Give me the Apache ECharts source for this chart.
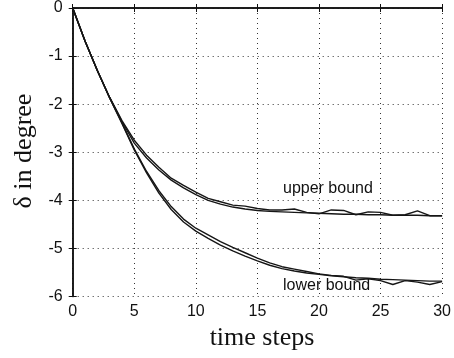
<!DOCTYPE html>
<html><head><meta charset="utf-8">
<script src="https://cdn.jsdelivr.net/npm/echarts@6/dist/echarts.min.js"></script>
<style>html,body{margin:0;padding:0;background:#fff}#c{width:454px;height:358px}</style>
</head><body><div id="c"></div>
<script>
var steps = [];
for (var i = 0; i <= 30; i++) steps.push(i);
var upperSmooth = [0,-0.685,-1.30,-1.86,-2.36,-2.81,-3.12,-3.37,-3.58,-3.74,-3.88,-4.00,-4.08,-4.14,-4.18,-4.21,-4.23,-4.24,-4.25,-4.26,-4.27,-4.28,-4.29,-4.29,-4.30,-4.30,-4.31,-4.31,-4.31,-4.32,-4.32];
var upperNoisy  = [0,-0.685,-1.30,-1.86,-2.34,-2.75,-3.06,-3.31,-3.54,-3.69,-3.83,-3.96,-4.03,-4.10,-4.12,-4.17,-4.20,-4.20,-4.18,-4.25,-4.28,-4.20,-4.21,-4.30,-4.24,-4.25,-4.31,-4.30,-4.22,-4.32,-4.32];
var lowerSmooth = [0,-0.685,-1.30,-1.87,-2.40,-2.95,-3.43,-3.85,-4.19,-4.45,-4.64,-4.79,-4.93,-5.05,-5.16,-5.26,-5.35,-5.42,-5.47,-5.51,-5.54,-5.57,-5.59,-5.61,-5.62,-5.64,-5.65,-5.66,-5.67,-5.68,-5.68];
var lowerNoisy  = [0,-0.685,-1.30,-1.87,-2.39,-2.93,-3.40,-3.80,-4.13,-4.39,-4.58,-4.72,-4.86,-4.98,-5.09,-5.20,-5.30,-5.38,-5.43,-5.48,-5.53,-5.56,-5.58,-5.66,-5.63,-5.67,-5.75,-5.67,-5.70,-5.75,-5.69];
var xTicks = [0,5,10,15,20,25,30];
var yTicks = [0,-1,-2,-3,-4,-5,-6];
var labels = ['upper bound','lower bound'];

function pairs(v){ return v.map(function(y,i){ return [steps[i], y]; }); }
var chart = echarts.init(document.getElementById('c'), null, {renderer:'canvas'});
var lineColor = '#161616';
var axisBase = {
  axisLine:{show:true, lineStyle:{color:'#111', width:1.5}},
  axisTick:{show:true, inside:true, length:4, lineStyle:{color:'#111', width:1}},
  splitLine:{show:false}
};
function mkSeries(d){ return {type:'line', data:pairs(d), showSymbol:false, symbol:'none', lineStyle:{color:lineColor, width:1.4}, silent:true, animation:false}; }
chart.setOption({
  animation:false,
  grid:{left:72.7, right:11.5, top:5, bottom:61.5},
  xAxis:[
    Object.assign({}, axisBase, {type:'value', min:xTicks[0], max:xTicks[xTicks.length-1], interval:5, position:'bottom',
      axisLabel:{margin:7, color:'#111', fontFamily:'Liberation Sans', fontSize:16},
      splitLine:{show:true, lineStyle:{color:'#333', width:1, type:[1,4]}}}),
    Object.assign({}, axisBase, {type:'value', min:0, max:30, interval:5, position:'top', axisLabel:{show:false}})
  ],
  yAxis:[
    Object.assign({}, axisBase, {type:'value', min:yTicks[yTicks.length-1], max:yTicks[0], interval:1, position:'left',
      axisLabel:{margin:10, color:'#111', fontFamily:'Liberation Sans', fontSize:16},
      splitLine:{show:true, lineStyle:{color:'#333', width:1, type:[1,4]}}}),
    Object.assign({}, axisBase, {type:'value', min:-6, max:0, interval:1, position:'right', axisLabel:{show:false}})
  ],
  graphic:[
    {type:'text', x:262, y:338, style:{text:'time steps', font:'26px "Liberation Serif"', fill:'#111', textAlign:'center', textVerticalAlign:'middle'}},
    {type:'text', x:24, y:151, rotation:Math.PI/2, style:{text:'δ in degree', font:'26px "Liberation Serif"', fill:'#111', textAlign:'center', textVerticalAlign:'middle'}},
    {type:'text', x:283, y:189, style:{text:labels[0], font:'16px "Liberation Sans"', fill:'#111', textAlign:'left', textVerticalAlign:'middle'}},
    {type:'text', x:283, y:286, style:{text:labels[1], font:'16px "Liberation Sans"', fill:'#111', textAlign:'left', textVerticalAlign:'middle'}}
  ],
  series:[mkSeries(upperSmooth), mkSeries(upperNoisy), mkSeries(lowerSmooth), mkSeries(lowerNoisy)]
});
</script></body></html>
